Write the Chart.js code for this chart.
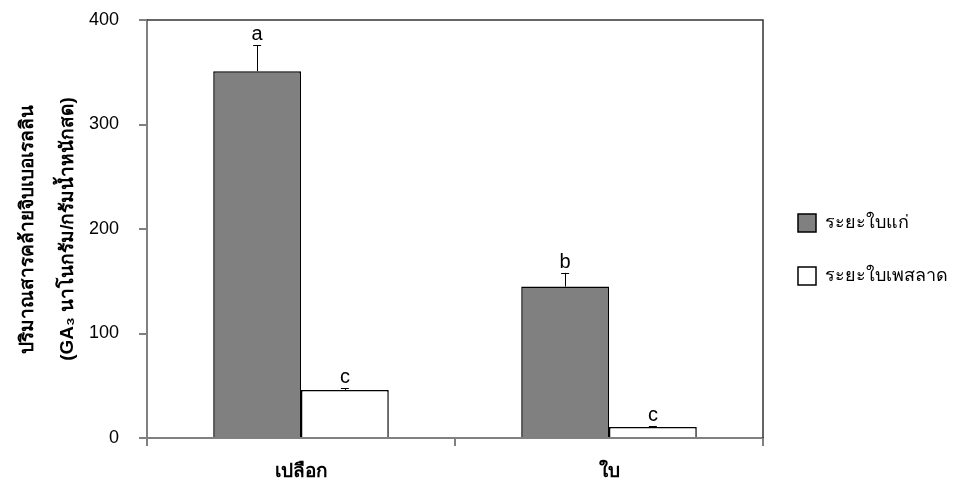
<!DOCTYPE html>
<html lang="th">
<head>
  <meta charset="UTF-8">
  <title>ปริมาณสารคล้ายจิบเบอเรลลิน</title>
  <script src="https://cdn.jsdelivr.net/npm/chart.js"></script>
  <style>
    html, body { margin: 0; padding: 0; background: #fff; }
    .chart-container { position: relative; width: 962px; height: 489px; }
  </style>
</head>
<body>
  <div class="chart-container">
    <canvas id="gaChart"></canvas>
  </div>

  <script>
    // Categories and series
    const categories = ['เปลือก', 'ใบ'];
    const seriesNames = ['ระยะใบแก่', 'ระยะใบเพสลาด'];
    const matureValues = [351, 145];
    const matureErrors = [25, 13];
    const matureLetters = ['a', 'b'];
    const flushValues = [46, 10.5];
    const flushErrors = [1.5, 1];
    const flushLetters = ['c', 'c'];
    const yTicks = [0, 100, 200, 300, 400];

    const FONT = "Arial, 'Liberation Sans', sans-serif";

    // Error bars (upper half only) and significance letters above each bar
    const errorBarPlugin = {
      id: 'errorBars',
      afterDatasetsDraw(chart) {
        const ctx = chart.ctx;
        const yScale = chart.scales.y;
        ctx.save();
        chart.data.datasets.forEach((ds, di) => {
          const meta = chart.getDatasetMeta(di);
          meta.data.forEach((bar, i) => {
            const v = ds.data[i];
            const top = yScale.getPixelForValue(v + ds.errors[i]);
            const base = yScale.getPixelForValue(v);
            ctx.strokeStyle = '#000';
            ctx.lineWidth = 1;
            ctx.beginPath();
            ctx.moveTo(Math.round(bar.x) + 0.5, base);
            ctx.lineTo(Math.round(bar.x) + 0.5, top);
            ctx.moveTo(bar.x - 4, Math.round(top) + 0.5);
            ctx.lineTo(bar.x + 4, Math.round(top) + 0.5);
            ctx.stroke();
            ctx.fillStyle = '#000';
            ctx.font = '20px ' + FONT;
            ctx.textAlign = 'center';
            ctx.textBaseline = 'alphabetic';
            ctx.fillText(ds.letters[i], bar.x, top - 5);
          });
        });
        ctx.restore();
      }
    };

    // Top and right frame lines plus the legend at the right
    const framePlugin = {
      id: 'frame',
      afterDraw(chart) {
        const { ctx, chartArea } = chart;
        ctx.save();
        ctx.strokeStyle = '#333';
        ctx.lineWidth = 1.5;
        ctx.beginPath();
        ctx.moveTo(chartArea.left, chartArea.top);
        ctx.lineTo(chartArea.right, chartArea.top);
        ctx.lineTo(chartArea.right, chartArea.bottom);
        ctx.stroke();

        const items = [
          { label: seriesNames[0], fill: '#808080', y: 214 },
          { label: seriesNames[1], fill: '#ffffff', y: 267 }
        ];
        items.forEach(it => {
          ctx.fillStyle = it.fill;
          ctx.fillRect(798, it.y, 18, 18);
          ctx.strokeStyle = '#000';
          ctx.lineWidth = 1.5;
          ctx.strokeRect(798, it.y, 18, 18);
          ctx.fillStyle = '#000';
          ctx.font = '18px ' + FONT;
          ctx.textAlign = 'left';
          ctx.textBaseline = 'middle';
          ctx.fillText(it.label, 825, it.y + 9);
        });
        ctx.restore();
      }
    };

    const ctx = document.getElementById('gaChart').getContext('2d');
    const chart = new Chart(ctx, {
      type: 'bar',
      data: {
        labels: categories,
        datasets: [
          {
            label: seriesNames[0],
            data: matureValues,
            errors: matureErrors,
            letters: matureLetters,
            backgroundColor: '#808080',
            borderColor: '#000',
            borderWidth: 1.5,
            categoryPercentage: 0.57,
            barPercentage: 1.0
          },
          {
            label: seriesNames[1],
            data: flushValues,
            errors: flushErrors,
            letters: flushLetters,
            backgroundColor: '#ffffff',
            borderColor: '#000',
            borderWidth: 1.5,
            categoryPercentage: 0.57,
            barPercentage: 1.0
          }
        ]
      },
      options: {
        responsive: true,
        maintainAspectRatio: false,
        animation: false,
        layout: { padding: { top: 20, right: 199, left: 0, bottom: 0 } },
        plugins: {
          legend: { display: false },
          tooltip: { enabled: false }
        },
        scales: {
          x: {
            grid: {
              offset: true,
              drawOnChartArea: false,
              drawTicks: true,
              tickLength: 8,
              color: '#808080',
              lineWidth: 2
            },
            border: { color: '#808080', width: 2 },
            ticks: {
              color: '#000',
              font: { family: FONT, size: 19, weight: 'bold' },
              padding: 14
            },
            afterFit(scale) {
              scale.height = 51;
              scale.paddingLeft = 0;
              scale.paddingRight = 0;
            }
          },
          y: {
            min: 0,
            max: 400,
            afterBuildTicks(scale) { scale.ticks = yTicks.map(v => ({ value: v })); },
            grid: {
              drawOnChartArea: false,
              drawTicks: true,
              tickLength: 8,
              color: '#808080',
              lineWidth: 2
            },
            border: { color: '#808080', width: 2 },
            ticks: {
              color: '#000',
              font: { family: FONT, size: 18 },
              padding: 20
            },
            title: {
              display: true,
              text: ['ปริมาณสารคล้ายจิบเบอเรลลิน', '(GA₃ นาโนกรัม/กรัมน้ำหนักสด)'],
              color: '#000',
              font: { family: FONT, size: 19, weight: 'bold', lineHeight: 2.1 },
              padding: { top: 8, bottom: 0 }
            },
            afterFit(scale) {
              scale.width = 147;
              scale.paddingTop = 0;
              scale.paddingBottom = 0;
            }
          }
        }
      },
      plugins: [errorBarPlugin, framePlugin]
    });
  </script>
</body>
</html>
